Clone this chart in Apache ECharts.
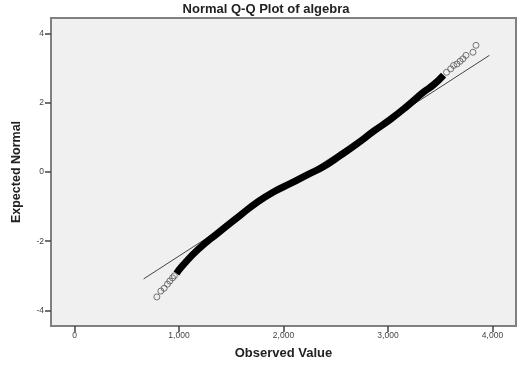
<!DOCTYPE html>
<html>
<head>
<meta charset="utf-8">
<script src="https://cdn.jsdelivr.net/npm/echarts@6/dist/echarts.min.js"></script>
<style>
  html, body { margin: 0; padding: 0; background: #fff; }
  #chart { width: 532px; height: 365px; }
</style>
</head>
<body>
<div id="chart"></div>
<script>
// tick labels
var xTicks = [0, 1000, 2000, 3000, 4000];
var yTicks = [-4, -2, 0, 2, 4];

// sparse points at the low end (observed, expected normal)
var lowTail = [[788, -3.61], [826, -3.44], [858, -3.36], [890, -3.24], [912, -3.15], [938, -3.06], [955, -3.0]];
// dense body of the point cloud, read along its centre
var body = [[975, -2.93], [1030, -2.72], [1182, -2.24], [1373, -1.76], [1590, -1.24], [1750, -0.87],
            [1908, -0.57], [2068, -0.33], [2227, -0.08], [2386, 0.16], [2545, 0.48], [2705, 0.82],
            [2863, 1.18], [3023, 1.52], [3182, 1.90], [3341, 2.31], [3436, 2.52], [3532, 2.80]];
// sparse points at the high end
var highTail = [[3560, 2.88], [3600, 2.98], [3628, 3.08], [3660, 3.12], [3690, 3.2], [3717, 3.27],
                [3746, 3.37], [3813, 3.46], [3842, 3.66]];
// reference line ends
var refLine = [[661, -3.09], [3970, 3.37]];

var myChart = echarts.init(document.getElementById('chart'));
var labelFont = 'Liberation Sans';

myChart.setOption({
  backgroundColor: '#ffffff',
  animation: false,
  title: {
    text: 'Normal Q-Q Plot of algebra',
    left: 'center',
    top: 3,
    padding: 0,
    textStyle: { fontFamily: labelFont, fontSize: 13, fontWeight: 'bold', color: '#222' }
  },
  grid: {
    left: 51,
    right: 16,
    top: 18,
    bottom: 39,
    show: true,
    backgroundColor: '#f0f0f0',
    borderColor: '#808080',
    borderWidth: 2
  },
  xAxis: {
    type: 'value',
    min: -225,
    max: 4225,
    name: 'Observed Value',
    nameLocation: 'middle',
    nameGap: 21,
    nameTextStyle: { fontFamily: labelFont, fontSize: 13, fontWeight: 'bold', color: '#222' },
    axisLine: { show: false, onZero: false },
    axisTick: { show: true, customValues: xTicks, length: 6, lineStyle: { color: '#444', width: 1.5 } },
    axisLabel: {
      customValues: xTicks,
      fontFamily: labelFont, fontSize: 8.5, color: '#444', margin: 5,
      formatter: function (v) { return v.toLocaleString('en-US'); }
    },
    splitLine: { show: false }
  },
  yAxis: {
    type: 'value',
    min: -4.45,
    max: 4.45,
    name: 'Expected Normal',
    nameLocation: 'middle',
    nameGap: 28,
    nameTextStyle: { fontFamily: labelFont, fontSize: 12.5, fontWeight: 'bold', color: '#222' },
    axisLine: { show: false, onZero: false },
    axisTick: { show: true, customValues: yTicks, length: 6, lineStyle: { color: '#444', width: 1.5 } },
    axisLabel: { customValues: yTicks, fontFamily: labelFont, fontSize: 8.5, color: '#444', margin: 7 },
    splitLine: { show: false }
  },
  series: [
    {
      type: 'line',
      data: refLine,
      symbol: 'none',
      lineStyle: { color: '#444', width: 1 },
      z: 2
    },
    {
      type: 'line',
      data: body,
      smooth: true,
      symbol: 'none',
      lineStyle: { color: '#000', width: 7 },
      z: 3
    },
    {
      type: 'scatter',
      data: lowTail.concat(highTail),
      symbol: 'circle',
      symbolSize: 6,
      itemStyle: { color: 'rgba(0,0,0,0)', borderColor: '#555', borderWidth: 1 },
      z: 4
    }
  ]
});
</script>
</body>
</html>
